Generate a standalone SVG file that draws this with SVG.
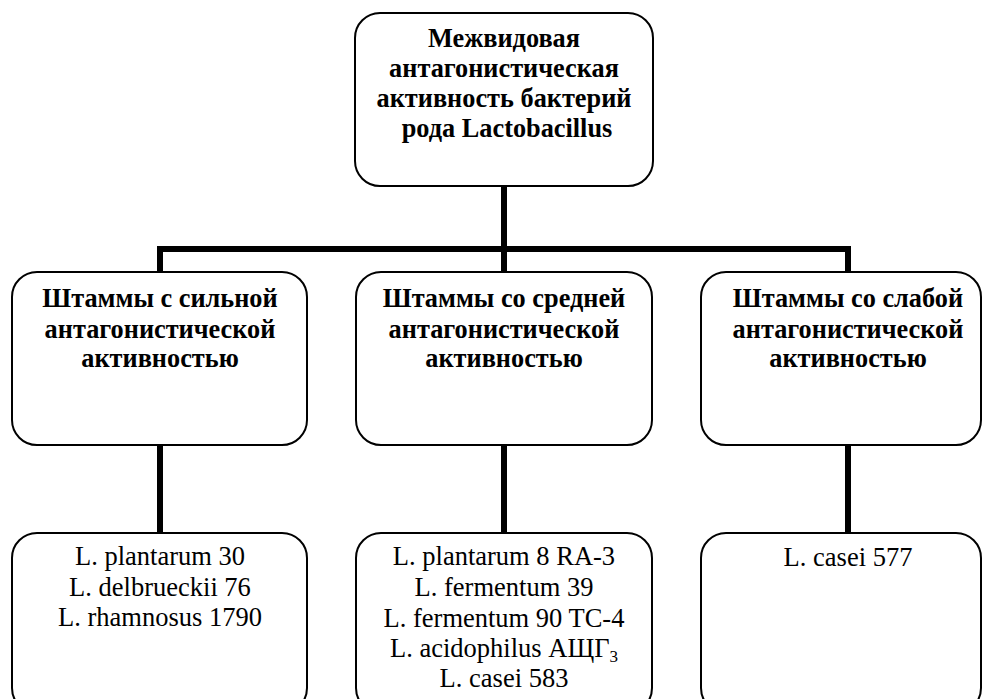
<svg xmlns="http://www.w3.org/2000/svg" width="983" height="699" viewBox="0 0 983 699">
<style>
.box{fill:#fff;stroke:#000;stroke-width:2}
.conn{fill:none;stroke:#000;stroke-width:6}
text{font-family:'Liberation Serif','Times New Roman',serif;fill:#000;text-anchor:middle}
.b{font-weight:bold;font-size:26.3px}
.r{font-size:26.5px}
</style>
<rect width="983" height="699" fill="#fff"/>
<g id="connectors">
<line class="conn" x1="504" y1="186" x2="504" y2="272"/>
<polyline class="conn" points="160,272 160,249 848,249 848,272"/>
<line class="conn" x1="160" y1="445" x2="160" y2="533"/>
<line class="conn" x1="504" y1="445" x2="504" y2="533"/>
<line class="conn" x1="848" y1="445" x2="848" y2="533"/>
</g>
<g id="root">
<rect class="box" x="355" y="13" width="298" height="173" rx="25"/>
<text class="b" x="504" y="47">Межвидовая</text>
<text class="b" x="504" y="77">антагонистическая</text>
<text class="b" x="504" y="107">активность бактерий</text>
<text class="b" x="507" y="137">рода Lactobacillus</text>
</g>
<g id="strong">
<rect class="box" x="12" y="272" width="295" height="173" rx="25"/>
<text class="b" x="160" y="307">Штаммы с сильной</text>
<text class="b" x="160" y="338">антагонистической</text>
<text class="b" x="160" y="367">активностью</text>
</g>
<g id="medium">
<rect class="box" x="356" y="272" width="296" height="173" rx="25"/>
<text class="b" x="504" y="307">Штаммы со средней</text>
<text class="b" x="504" y="338">антагонистической</text>
<text class="b" x="504" y="367">активностью</text>
</g>
<g id="weak">
<rect class="box" x="701" y="272" width="280" height="173" rx="25"/>
<text class="b" x="848" y="307">Штаммы со слабой</text>
<text class="b" x="848" y="338">антагонистической</text>
<text class="b" x="848" y="367">активностью</text>
</g>
<g id="strong-list">
<rect class="box" x="12" y="533" width="295" height="180" rx="25"/>
<text class="r" x="160" y="565">L. plantarum 30</text>
<text class="r" x="160" y="596">L. delbrueckii 76</text>
<text class="r" x="160" y="626">L. rhamnosus 1790</text>
</g>
<g id="medium-list">
<rect class="box" x="356" y="533" width="296" height="180" rx="25"/>
<text class="r" x="504" y="565">L. plantarum 8 RA-3</text>
<text class="r" x="504" y="596">L. fermentum 39</text>
<text class="r" x="504" y="627">L. fermentum 90 TC-4</text>
<text class="r" x="504" y="657">L. acidophilus АЩГ<tspan font-size="17" dy="5">3</tspan></text>
<text class="r" x="504" y="687">L. casei 583</text>
</g>
<g id="weak-list">
<rect class="box" x="701" y="533" width="280" height="180" rx="25"/>
<text class="r" x="848" y="566">L. casei 577</text>
</g>
</svg>
